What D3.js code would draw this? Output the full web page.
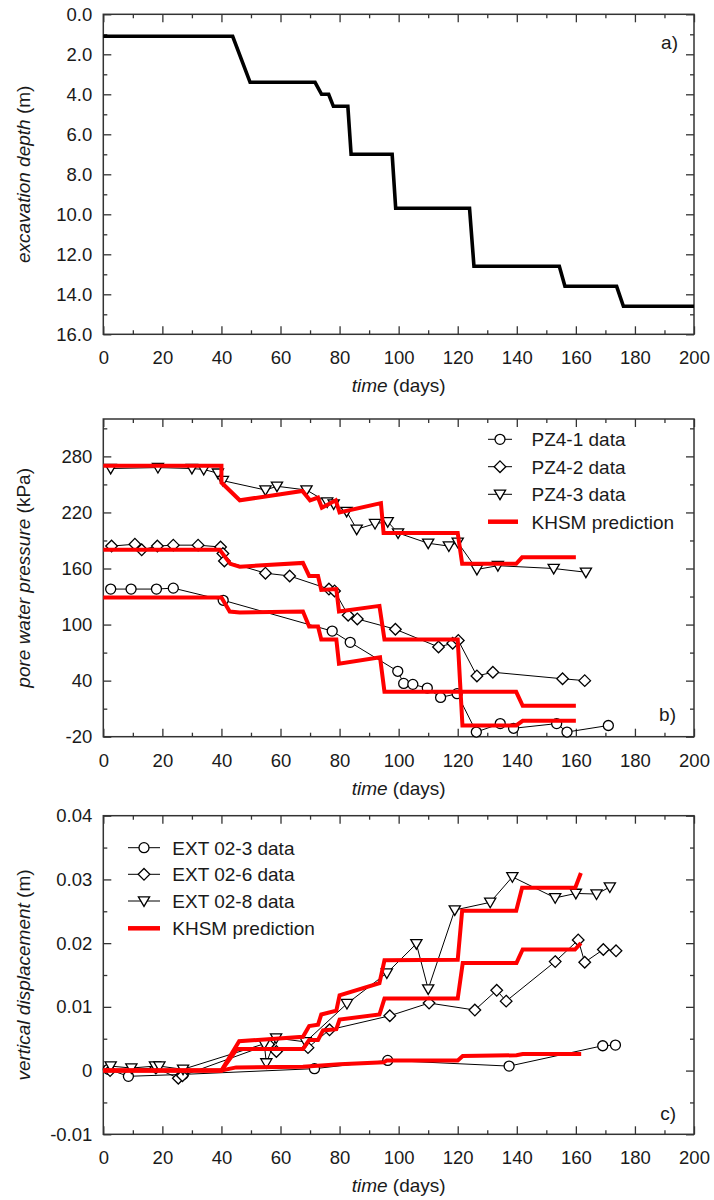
<!DOCTYPE html>
<html>
<head>
<meta charset="utf-8">
<script src="https://cdn.jsdelivr.net/npm/d3@7"></script>
<style>
  html, body { margin: 0; padding: 0; background: #fff; }
  svg { display: block; }
  text { font-family: "Liberation Sans", Arial, sans-serif; fill: #1a1a1a; }
</style>
</head>
<body>
<svg id="chart" width="714" height="1200"></svg>
<script>
// ---------- tick values ----------
const timeTicks = [0, 20, 40, 60, 80, 100, 120, 140, 160, 180, 200];
const timeMinor = [10, 30, 50, 70, 90, 110, 130, 150, 170, 190];
const depthTicks = [0, 2, 4, 6, 8, 10, 12, 14, 16];
const depthMinor = [1, 3, 5, 7, 9, 11, 13, 15];
const pwpTicks = [-20, 40, 100, 160, 220, 280];
const pwpMinor = [10, 70, 130, 190, 250, 310];
const dispTicks = [-0.01, 0, 0.01, 0.02, 0.03, 0.04];
const dispMinor = [-0.005, 0.005, 0.015, 0.025, 0.035];

// ---------- panel a: excavation depth ----------
const depthDays = [0, 43.8, 49.7, 71.7, 73.9, 76.3, 77.9, 82.8, 83.9, 97.8, 99, 124, 125.5, 154.4, 156.3, 173.8, 176.1, 200];
const depthVals = [1.1, 1.1, 3.4, 3.4, 4.0, 4.0, 4.6, 4.6, 7.0, 7.0, 9.7, 9.7, 12.6, 12.6, 13.6, 13.6, 14.6, 14.6];

// ---------- panel b: pore water pressure ----------
const pz41Days = [2.5, 9.4, 18, 23.7, 40.6, 77.5, 83.6, 99.7, 101.7, 104.8, 109.7, 114.2, 119.8, 126.3, 134.4, 138.9, 153.5, 157, 171];
const pz41Vals = [138, 138, 138, 139, 126, 93, 81, 50, 37, 36, 32, 22, 26, -15, -6, -11, -6, -15, -8];
const pz42Days = [2.8, 10.7, 13, 18.3, 23.7, 32.1, 39.7, 40.5, 41, 54.9, 63.1, 76.4, 78.3, 82.9, 86, 98.9, 113.5, 118.3, 120.2, 126.5, 131.9, 155.5, 163];
const pz42Vals = [184, 186, 180, 184, 185, 185, 183, 176, 168, 155, 152, 138, 136, 110, 106, 95, 76, 80, 83, 45, 49, 42, 40];
const pz43Days = [2.5, 18.5, 30, 34, 38.8, 40.5, 54.9, 58.8, 68.8, 75.8, 78, 82.4, 85.8, 92, 96.3, 99.8, 110, 117, 120, 126.5, 133.6, 152.5, 163.4];
const pz43Vals = [267, 268, 267, 266, 262, 254, 244, 248, 244, 231, 229, 221, 202, 208, 210, 198, 187, 184, 188, 159, 163, 160, 156];
const khsmB1Days = [0, 40, 42.8, 46.2, 67.6, 69.7, 72.7, 73.8, 78.9, 79.8, 93.7, 95.2, 139.8, 142, 160];
const khsmB1Vals = [129, 129, 114, 113, 114, 98, 98, 84, 84, 58, 65, 28, 28, 13, 13];
const khsmB2Days = [0, 39.4, 43, 46.2, 67.6, 69.7, 72.7, 73.8, 78.9, 79.8, 93.5, 95.2, 120, 121.6, 139.8, 142, 160];
const khsmB2Vals = [180, 180, 165, 162, 166, 152, 152, 137, 138, 114, 120, 84, 84, -8, -8, -3, -3];
const khsmB3Days = [0, 40, 40, 46.2, 67.4, 70, 72.7, 74, 78.7, 80, 94, 94.9, 120, 121.5, 139.8, 141.8, 160];
const khsmB3Vals = [270, 270, 252, 233, 243, 233, 236, 225, 233, 220, 230, 198, 198, 165, 165, 172, 172];

// ---------- panel c: vertical displacement ----------
const ext3Days = [1.7, 8.5, 27, 71.5, 96.3, 137.4, 169.1, 173.4];
const ext3Vals = [0.0002, -0.0009, -0.0006, 0.0003, 0.0016, 0.0007, 0.0039, 0.0040];
const ext6Days = [2.3, 17.8, 25.4, 26.8, 56, 58.6, 69.3, 76.6, 97, 110.3, 125.8, 133.2, 136.4, 153, 160.8, 163, 169.3, 173.6];
const ext6Vals = [0.0, 0.0004, -0.0012, -0.0008, 0.0041, 0.0030, 0.0036, 0.0064, 0.0086, 0.0106, 0.0095, 0.0126, 0.0109, 0.0171, 0.0205, 0.0170, 0.0190, 0.0188];
const ext8Days = [2.5, 9.5, 17.5, 19, 27, 54.5, 55.2, 58.5, 68.5, 82.5, 96, 106, 110, 119, 131, 138.5, 153, 160, 167, 171.5];
const ext8Vals = [0.0007, 0.0004, 0.0007, 0.0007, 0.0002, 0.0042, 0.0012, 0.0051, 0.0045, 0.0105, 0.0153, 0.0199, 0.0128, 0.0252, 0.0264, 0.0304, 0.0271, 0.0278, 0.0277, 0.0288];
const khsmC3Days = [0, 40, 45, 67.6, 80, 95, 96, 120, 121.7, 139.9, 142, 161.8];
const khsmC3Vals = [0, 0, 0.0005, 0.0006, 0.001, 0.0013, 0.0016, 0.0016, 0.0023, 0.0024, 0.0026, 0.0026];
const khsmC6Days = [0, 40, 45.3, 67.6, 69.7, 72.7, 74.4, 78.9, 80, 93.5, 95.2, 120, 121.7, 139.9, 142, 159.7, 161.7];
const khsmC6Vals = [0, 0, 0.0034, 0.0034, 0.0048, 0.0048, 0.0063, 0.0065, 0.008, 0.0088, 0.0113, 0.0113, 0.0169, 0.0169, 0.019, 0.019, 0.020];
const khsmC8Days = [0, 40, 46, 67.6, 69.7, 72.7, 73.8, 78.9, 80, 93.5, 95.2, 120, 121.5, 139.8, 141.8, 159.8, 161.7];
const khsmC8Vals = [0, 0, 0.0046, 0.0053, 0.007, 0.0072, 0.0088, 0.0094, 0.0118, 0.0137, 0.0173, 0.0174, 0.0251, 0.0251, 0.0287, 0.0287, 0.031];

const bLegend = ["PZ4-1 data", "PZ4-2 data", "PZ4-3 data", "KHSM prediction"];
const cLegend = ["EXT 02-3 data", "EXT 02-6 data", "EXT 02-8 data", "KHSM prediction"];

// ---------- drawing ----------
const svg = d3.select("#chart");
const L = 103.3, R = 694;
const FS = 18.5;
const AX = "#333";
const RED = "#ff0000";
const zip = (xs, ys) => xs.map((d, i) => [d, ys[i]]);
const hyphen = s => s.replace("\u2212", "-");

const x = d3.scaleLinear().domain([0, 200]).range([L, R]);

const markers = {
  circle: "M5,0A5,5 0 1,1 -5,0A5,5 0 1,1 5,0Z",
  diamond: "M0,-5.8L5.8,0L0,5.8L-5.8,0Z",
  tri: "M-5.6,-4.2L5.6,-4.2L0,5.4Z"
};

function frame(top, bottom, y, majY, minY, fmt) {
  const g = svg.append("g");
  const xb = (ticks, size, labels) => {
    const a = d3.axisBottom(x).tickValues(ticks).tickSize(-size).tickPadding(17);
    if (!labels) a.tickFormat("");
    return a;
  };
  const xt = (ticks, size) => d3.axisTop(x).tickValues(ticks).tickSize(-size).tickFormat("");
  const yl = (ticks, size, labels) => {
    const a = d3.axisLeft(y).tickValues(ticks).tickSize(-size).tickPadding(11);
    if (labels) a.tickFormat(fmt); else a.tickFormat("");
    return a;
  };
  const yr = (ticks, size) => d3.axisRight(y).tickValues(ticks).tickSize(-size).tickFormat("");
  const items = [
    [xb(timeTicks, 8, true), `translate(0,${bottom})`],
    [xb(timeMinor, 4, false), `translate(0,${bottom})`],
    [xt(timeTicks, 8), `translate(0,${top})`],
    [xt(timeMinor, 4), `translate(0,${top})`],
    [yl(majY, 8, true), `translate(${L},0)`],
    [yl(minY, 4, false), `translate(${L},0)`],
    [yr(majY, 8), `translate(${R},0)`],
    [yr(minY, 4), `translate(${R},0)`]
  ];
  items.forEach(([ax, tr]) => {
    const s = g.append("g").attr("transform", tr).call(ax);
    s.select(".domain").remove();
    s.selectAll("line").attr("stroke", AX).attr("stroke-width", 1.3);
    s.selectAll("text").style("font-size", FS + "px").attr("fill", "#1a1a1a")
      .style("font-family", "'Liberation Sans', Arial, sans-serif");
  });
  g.append("rect").attr("x", L).attr("y", top).attr("width", R - L).attr("height", bottom - top)
    .attr("fill", "none").attr("stroke", AX).attr("stroke-width", 1.5);
  const t = g.append("text").attr("x", (L + R) / 2).attr("y", bottom + 58)
    .attr("text-anchor", "middle").style("font-size", "19px");
  t.append("tspan").style("font-style", "italic").text("time");
  t.append("tspan").text(" (days)");
  return g;
}

function yTitle(italicPart, rest, cy) {
  const t = svg.append("text").attr("transform", `translate(30,${cy}) rotate(-90)`)
    .attr("text-anchor", "middle").style("font-size", "19px");
  t.append("tspan").style("font-style", "italic").text(italicPart);
  t.append("tspan").text(rest);
}

function series(g, x, y, pts, shape) {
  const line = d3.line().x(d => x(d[0])).y(d => y(d[1]));
  g.append("path").attr("d", line(pts)).attr("fill", "none").attr("stroke", "#000").attr("stroke-width", 1);
  g.selectAll(null).data(pts).enter().append("path")
    .attr("d", markers[shape])
    .attr("transform", d => `translate(${x(d[0])},${y(d[1])})`)
    .attr("fill", "#fff").attr("stroke", "#000").attr("stroke-width", 1.3);
}

function redLine(g, x, y, pts) {
  const line = d3.line().x(d => x(d[0])).y(d => y(d[1]));
  g.append("path").attr("d", line(pts)).attr("fill", "none").attr("stroke", RED)
    .attr("stroke-width", 4).attr("stroke-linejoin", "miter").attr("stroke-miterlimit", 3);
}

function legend(labels, shapes, lx0, dx1, rx1, tx, ys) {
  labels.forEach((lab, i) => {
    const g = svg.append("g");
    if (i < 3) {
      g.append("line").attr("x1", lx0).attr("x2", dx1).attr("y1", ys[i]).attr("y2", ys[i])
        .attr("stroke", "#000").attr("stroke-width", 1);
      g.append("path").attr("d", markers[shapes[i]])
        .attr("transform", `translate(${(lx0 + dx1) / 2},${ys[i]})`)
        .attr("fill", "#fff").attr("stroke", "#000").attr("stroke-width", 1.3);
    } else {
      g.append("line").attr("x1", lx0).attr("x2", rx1).attr("y1", ys[i]).attr("y2", ys[i])
        .attr("stroke", RED).attr("stroke-width", 4.5);
    }
    g.append("text").attr("x", tx).attr("y", ys[i] + 6.8).style("font-size", "19px").text(lab);
  });
}

// ----- Panel a -----
{
  const top = 14.3, bottom = 334.3;
  const y = d3.scaleLinear().domain([0, 16]).range([top, bottom]);
  const g = frame(top, bottom, y, depthTicks, depthMinor, d3.format(".1f"));
  const line = d3.line().x(d => x(d[0])).y(d => y(d[1]));
  g.append("path").attr("d", line(zip(depthDays, depthVals))).attr("fill", "none")
    .attr("stroke", "#000").attr("stroke-width", 3.6).attr("stroke-linejoin", "miter");
  svg.append("text").attr("x", 678).attr("y", 49).attr("text-anchor", "end").style("font-size", "19px").text("a)");
  yTitle("excavation depth", " (m)", (top + bottom) / 2);
}

// ----- Panel b -----
{
  const top = 419, bottom = 736.7;
  const y = d3.scaleLinear().domain([-20, 320]).range([bottom, top]);
  const g = frame(top, bottom, y, pwpTicks, pwpMinor, v => hyphen(d3.format("d")(v)));
  series(g, x, y, zip(pz41Days, pz41Vals), "circle");
  series(g, x, y, zip(pz42Days, pz42Vals), "diamond");
  series(g, x, y, zip(pz43Days, pz43Vals), "tri");
  redLine(g, x, y, zip(khsmB1Days, khsmB1Vals));
  redLine(g, x, y, zip(khsmB2Days, khsmB2Vals));
  redLine(g, x, y, zip(khsmB3Days, khsmB3Vals));
  legend(bLegend, ["circle", "diamond", "tri"], 488, 512, 518, 531.5, [439.3, 466.7, 494.3, 521.7]);
  svg.append("text").attr("x", 676).attr("y", 721).attr("text-anchor", "end").style("font-size", "19px").text("b)");
  yTitle("pore water pressure", " (kPa)", (top + bottom) / 2);
}

// ----- Panel c -----
{
  const top = 815.7, bottom = 1134.3;
  const y = d3.scaleLinear().domain([-0.01, 0.04]).range([bottom, top]);
  const fmt = v => Math.abs(v) < 1e-12 ? "0" : hyphen(d3.format(".2f")(v));
  const g = frame(top, bottom, y, dispTicks, dispMinor, fmt);
  series(g, x, y, zip(ext3Days, ext3Vals), "circle");
  series(g, x, y, zip(ext6Days, ext6Vals), "diamond");
  series(g, x, y, zip(ext8Days, ext8Vals), "tri");
  redLine(g, x, y, zip(khsmC3Days, khsmC3Vals));
  redLine(g, x, y, zip(khsmC6Days, khsmC6Vals));
  redLine(g, x, y, zip(khsmC8Days, khsmC8Vals));
  legend(cLegend, ["circle", "diamond", "tri"], 128, 160, 160, 172.3, [847.7, 874.3, 901, 928.3]);
  svg.append("text").attr("x", 676).attr("y", 1120).attr("text-anchor", "end").style("font-size", "19px").text("c)");
  yTitle("vertical displacement", " (m)", (top + bottom) / 2);
}
</script>
</body>
</html>
